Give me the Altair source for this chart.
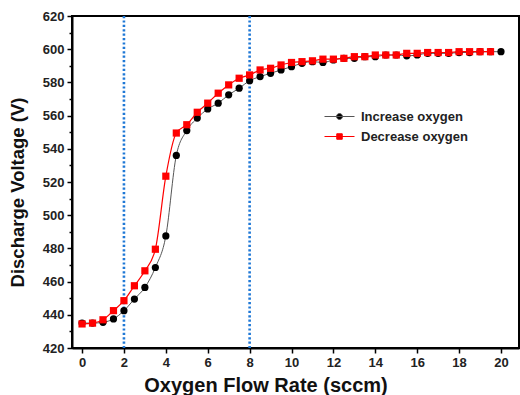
import altair as alt
import pandas as pd

# ---- data ----
flow_inc = [i * 0.5 for i in range(41)]  # 0 .. 20 sccm
volt_inc = [435, 435, 435.5, 437.5, 442.5, 449.5, 456.5, 468.5, 487.5, 536,
            551, 558.5, 564, 567.5, 572.5, 576.5, 581, 583.5, 585.5, 587.5,
            589.5, 591.5, 592.5, 592, 593.5, 594.5, 594.5, 595.5, 595.5, 596.5,
            596.5, 596, 596.5, 597.5, 597.5, 597.5, 598, 598, 598.5, 598.5, 598.5]

flow_dec = [i * 0.5 for i in range(40)]  # 0 .. 19.5 sccm
volt_dec = [434.5, 435, 437, 442.5, 448.5, 457.5, 466.5, 479.5, 523.5, 549.5,
            554.5, 562, 567.5, 573.5, 578.5, 582.5, 584.5, 587.5, 588.5, 590.5,
            592, 592.5, 593, 594, 594, 594.5, 595.5, 595.5, 596.5, 596.5,
            596.5, 597.5, 597.5, 598, 598, 598, 598.5, 598.5, 598.5, 598.5]

vline_x = [2, 8]
series_names = ["Increase oxygen", "Decrease oxygen"]
x_ticks = list(range(0, 21))
y_ticks = list(range(420, 621, 10))

df_inc = pd.DataFrame({"flow": flow_inc, "volt": volt_inc})
df_dec = pd.DataFrame({"flow": flow_dec, "volt": volt_dec})
df_vl = pd.DataFrame({"flow": vline_x})
df_leg = pd.DataFrame({"series": series_names})

FONT = "Liberation Sans"

xscale = alt.Scale(domain=[-0.48, 20.86], nice=False, zero=False)
yscale = alt.Scale(domain=[420, 620], nice=False, zero=False)

xaxis = alt.Axis(
    values=x_ticks,
    labelExpr="datum.value % 2 == 0 ? datum.label : ''",
    tickSize={"condition": {"test": "datum.value % 2 == 0", "value": 5}, "value": 3},
    labelPadding=3,
    title="Oxygen Flow Rate (sccm)",
    titleX=193.5, titleY=43, titleAlign="center", titleBaseline="alphabetic",
    titleAnchor="start", titleAngle=0,
    titleFontSize=20,
)
yaxis = alt.Axis(
    values=y_ticks,
    labelExpr="datum.value % 20 == 0 ? datum.label : ''",
    tickSize={"condition": {"test": "datum.value % 20 == 0", "value": 5}, "value": 3},
    labelPadding=3,
    title="Discharge Voltage (V)",
    titleX=-49, titleY=176, titleAlign="center", titleBaseline="alphabetic",
    titleAnchor="start", titleAngle=270,
    titleFontSize=18.5,
)

X = alt.X("flow:Q", scale=xscale, axis=xaxis)
Y = alt.Y("volt:Q", scale=yscale, axis=yaxis)

vlines = alt.Chart(df_vl).mark_rule(
    color="#1f78d6", strokeWidth=2.6, strokeDash=[2.2, 2.2]
).encode(x=alt.X("flow:Q", scale=xscale))

inc_line = alt.Chart(df_inc).mark_line(
    color="#555555", strokeWidth=1, interpolate="monotone"
).encode(x=X, y=Y)
inc_pts = alt.Chart(df_inc).mark_circle(color="black", size=52, opacity=1).encode(x=X, y=Y)

dec_line = alt.Chart(df_dec).mark_line(
    color="#ff0000", strokeWidth=1.2, interpolate="monotone"
).encode(x=X, y=Y)
dec_pts = alt.Chart(df_dec).mark_square(color="#ff0000", size=52, opacity=1).encode(x=X, y=Y)

path_circle = "M-3,0H3M-0.6,0A0.6,0.6,0,1,1,0.6,0A0.6,0.6,0,1,1,-0.6,0Z"
path_square = "M-3,0H3M-0.55,-0.55H0.55V0.55H-0.55Z"

leg = alt.Legend(
    title=None, orient="none", legendX=261, legendY=94, padding=0,
    symbolSize=100, symbolStrokeWidth=1, labelOffset=15, rowPadding=6,
    labelFontSize=13, labelFont=FONT, labelFontWeight="bold", labelColor="#222222",
    symbolOpacity=1,
)
legend_layer = alt.Chart(df_leg).mark_point(filled=True).encode(
    fill=alt.Fill("series:N", scale=alt.Scale(domain=series_names, range=["#000000", "#ff0000"]), legend=leg),
    stroke=alt.Stroke("series:N", scale=alt.Scale(domain=series_names, range=["#555555", "#ff0000"]), legend=leg),
    shape=alt.Shape("series:N", scale=alt.Scale(domain=series_names, range=[path_circle, path_square]), legend=leg),
).transform_filter("false")

chart = alt.layer(vlines, inc_line, inc_pts, dec_line, dec_pts, legend_layer).properties(
    width=447, height=332,
    autosize=alt.AutoSizeParams(type="none"),
    padding={"left": 72, "top": 16, "right": 1, "bottom": 47},
    background="white",
).configure_view(
    stroke="black", strokeWidth=2
).configure_axis(
    grid=False,
    domainColor="black", domainWidth=2,
    tickColor="black", tickWidth=1.5,
    labelFont=FONT, labelFontSize=13, labelFontWeight="bold", labelColor="#222222",
    titleFont=FONT, titleFontWeight="bold", titleColor="#111111",
)

chart.save("out.html", embed_options={"renderer": "svg", "actions": False})
